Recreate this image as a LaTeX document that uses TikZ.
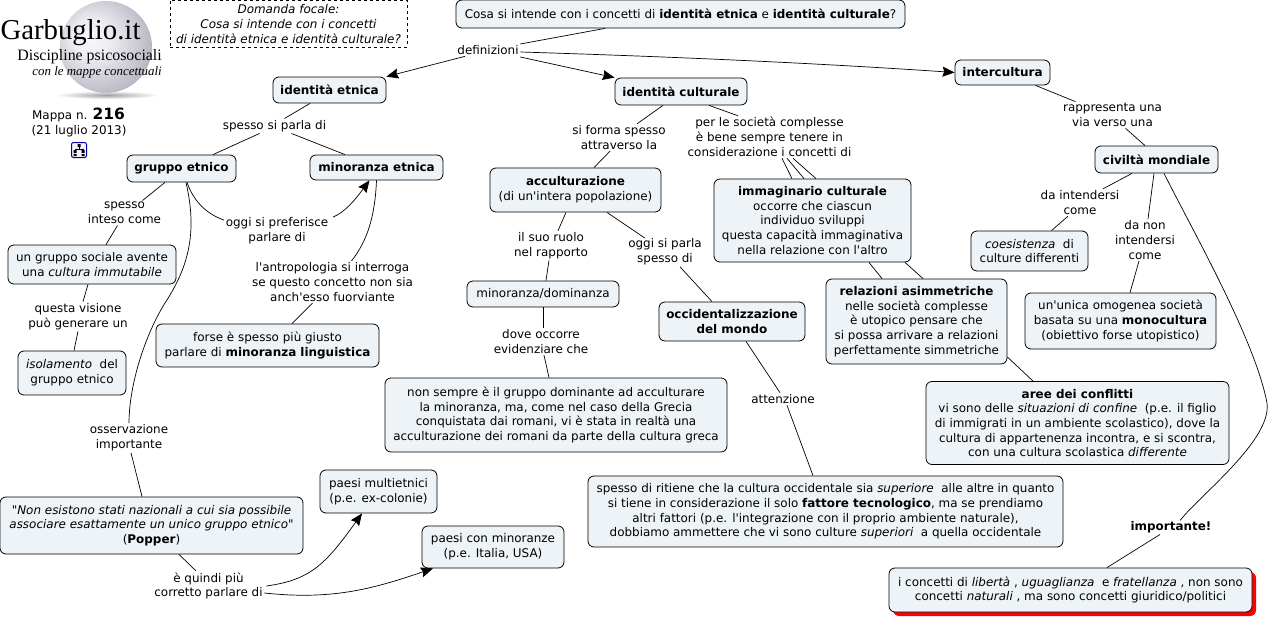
\documentclass[tikz,border=0pt]{standalone}
\usepackage{fontspec}
\setmainfont{DejaVu Sans}[Ligatures=TeXOff]
\newfontfamily\logofont{Liberation Serif}
\usetikzlibrary{arrows.meta,shadows}
\definecolor{boxfill}{HTML}{EDF3F6}
\pgfdeclareradialshading{pearl}{\pgfpoint{-10bp}{6bp}}{rgb(0bp)=(.98,.98,.99);rgb(10bp)=(.93,.93,.95);rgb(24bp)=(.78,.78,.82);rgb(38bp)=(.62,.62,.68);rgb(46bp)=(.52,.52,.58);rgb(50bp)=(.60,.60,.66)}
\tikzset{
  every node/.style={font=\fontsize{11.95}{14.7}\selectfont,align=center,inner sep=1.5pt},
  conbox/.style={draw=black,fill=boxfill,rounded corners=6pt,line width=.8pt,inner sep=0pt},
  linkto/.style={line width=.7pt},
  arrowto/.style={line width=.7pt,-{Stealth[length=12pt,width=10pt,inset=1.5pt]}}
}
\begin{document}
\begin{tikzpicture}[x=1pt,y=-1pt]
\useasboundingbox (0,0) rectangle (1270,618);
% logo
\shade[inner color=gray!75,outer color=white] (107,95) ellipse (52 and 4);
\shade[shading=pearl] (106,47) circle (46);
\node[font=\logofont\fontsize{28.8}{30}\selectfont,inner sep=0pt] (logo) at (70.5,33) {Garbuglio.it};
\node[font=\logofont\fontsize{15.9}{17}\selectfont,inner sep=0pt,anchor=east] (logosub) at (162,57) {Discipline psicosociali};
\node[font=\logofont\itshape\fontsize{12.9}{14}\selectfont,inner sep=0pt,anchor=east] (logomap) at (162,72) {con le mappe concettuali};
\node (mapnum) at (78.5,115) {Mappa n. {\fontsize{15.5}{15}\selectfont\bfseries 216}};
\node (mapdate) at (79,131) {(21 luglio 2013)};
\node[draw=blue!70!black,fill=blue!5,rounded corners=2pt,line width=1pt,minimum size=15pt,inner sep=0pt] (icon) at (79,150) {};
\fill (77.5,144) rectangle (80.5,147) (73.5,150) rectangle (76.5,153) (81.5,150) rectangle (84.5,153) (73.5,154) rectangle (76.5,156) (81.5,154) rectangle (84.5,156);
\draw[line width=.4pt] (79,147) -- (79,149) (75,149) -- (83,149) (75,149) -- (75,150) (83,149) -- (83,150);
% top
\node[draw=black,dashed,line width=.7pt,minimum width=237pt,minimum height=47pt,inner sep=0pt] (focal) at (288.5,24) {\itshape Domanda focale:\\\itshape Cosa si intende con i concetti\\\itshape di identità etnica e identità culturale?};
\node[conbox,minimum width=449pt,minimum height=28pt] (title) at (680.5,14) {Cosa si intende con i concetti di \textbf{identità etnica} e \textbf{identità culturale}?};
\node (defs) at (488,50) {definizioni};
\node[conbox,minimum width=113pt,minimum height=26pt] (etnica) at (329.5,90) {\textbf{identità etnica}};
\node[conbox,minimum width=132pt,minimum height=27pt] (culturale) at (681,91.5) {\textbf{identità culturale}};
\node[conbox,minimum width=95pt,minimum height=25pt] (inter) at (1002.5,72.5) {\textbf{intercultura}};
% left side
\node (parla) at (274.5,126) {spesso si parla di};
\node[conbox,minimum width=109pt,minimum height=27pt] (gruppo) at (181.5,168.5) {\textbf{gruppo etnico}};
\node[conbox,minimum width=133pt,minimum height=25pt] (minoranza) at (376.5,167.5) {\textbf{minoranza etnica}};
\node (inteso) at (124.5,213) {spesso\\inteso come};
\node[conbox,minimum width=168pt,minimum height=39pt] (sociale) at (92,264.5) {un gruppo sociale avente\\una \textit{cultura immutabile}};
\node (visione) at (78,316.5) {questa visione\\può generare un};
\node[conbox,minimum width=108pt,minimum height=44pt] (isola) at (72,373) {\textit{isolamento} ~del\\gruppo etnico};
\node (prefer) at (277,231) {oggi si preferisce\\parlare di};
\node (antro) at (332.5,282) {l'antropologia si interroga\\se questo concetto non sia\\anch'esso fuorviante};
\node[conbox,minimum width=223pt,minimum height=43pt] (forse) at (267.5,345.5) {forse è spesso più giusto\\parlare di \textbf{minoranza linguistica}};
\node (osserv) at (129,438) {osservazione\\importante};
\node[conbox,minimum width=303pt,minimum height=57pt] (popper) at (151.5,525.5) {\textit{"Non esistono stati nazionali a cui sia possibile}\\\textit{associare esattamente un unico gruppo etnico"}\\(\textbf{Popper})};
\node (quindi) at (208.5,586) {è quindi più\\corretto parlare di};
\node[conbox,minimum width=117pt,minimum height=43pt] (multi) at (378.5,491.5) {paesi multietnici\\(p.e. ex-colonie)};
\node[conbox,minimum width=142pt,minimum height=42pt] (paesi) at (493,547) {paesi con minoranze\\(p.e. Italia, USA)};
% middle
\node (forma) at (619,137.5) {si forma spesso\\attraverso la};
\node (per) at (769.5,137) {per le società complesse\\è bene sempre tenere in\\considerazione i concetti di};
\node[conbox,minimum width=171pt,minimum height=44pt] (accult) at (575.5,190) {\textbf{acculturazione}\\(di un'intera popolazione)};
\node[conbox,minimum width=197pt,minimum height=83pt] (immag) at (812.5,220.5) {\textbf{immaginario culturale}\\occorre che ciascun\\individuo sviluppi\\questa capacità immaginativa\\nella relazione con l'altro};
\node (ruolo) at (551,245.5) {il suo ruolo\\nel rapporto};
\node (oggi) at (665,252) {oggi si parla\\spesso di};
\node[conbox,minimum width=152pt,minimum height=26pt] (domina) at (543,294) {minoranza/dominanza};
\node (dove) at (541,341.5) {dove occorre\\evidenziare che};
\node[conbox,minimum width=146pt,minimum height=39pt] (occid) at (732,321.5) {\textbf{occidentalizzazione}\\\textbf{del mondo}};
\node[conbox,minimum width=342pt,minimum height=74pt] (grecia) at (556,415) {non sempre è il gruppo dominante ad acculturare\\la minoranza, ma, come nel caso della Grecia\\conquistata dai romani, vi è stata in realtà una\\acculturazione dei romani da parte della cultura greca};
\node (attenz) at (783,399) {attenzione};
\node[conbox,minimum width=475pt,minimum height=71pt] (tecno) at (825.5,511.5) {spesso di ritiene che la cultura occidentale sia \textit{superiore} ~alle altre in quanto\\si tiene in considerazione il solo \textbf{fattore tecnologico}, ma se prendiamo\\altri fattori (p.e. l'integrazione con il proprio ambiente naturale),\\dobbiamo ammettere che vi sono culture \textit{superiori} ~a quella occidentale};
\node[conbox,minimum width=181pt,minimum height=85pt] (asimm) at (916.5,321.5) {\textbf{relazioni asimmetriche}\\nelle società complesse\\è utopico pensare che\\si possa arrivare a relazioni\\perfettamente simmetriche};
\node[conbox,minimum width=303pt,minimum height=83pt] (aree) at (1077.5,423) {\textbf{aree dei conflitti}\\vi sono delle \textit{situazioni di confine} ~(p.e. il figlio\\di immigrati in un ambiente scolastico), dove la\\cultura di appartenenza incontra, e si scontra,\\con una cultura scolastica \textit{differente}};
% right side
\node (rappr) at (1112.5,115) {rappresenta una\\via verso una};
\node[conbox,minimum width=123pt,minimum height=27pt] (civil) at (1156.5,159.5) {\textbf{civiltà mondiale}};
\node (intend) at (1080,202.5) {da intendersi\\come};
\node (danon) at (1145,240) {da non\\intendersi\\come};
\node[conbox,minimum width=117pt,minimum height=40pt] (coes) at (1029.5,251) {\textit{coesistenza} ~di\\culture differenti};
\node[conbox,minimum width=191pt,minimum height=56pt] (omog) at (1120.5,321) {un'unica omogenea società\\basata su una \textbf{monocultura}\\(obiettivo forse utopistico)};
\node (import) at (1171,527) {\textbf{importante!}};
\node[conbox,minimum width=363pt,minimum height=44pt,general shadow={fill=red,shadow xshift=4pt,shadow yshift=-4pt,rounded corners=6pt}] (liberta) at (1070.5,590) {i concetti di \textit{libertà} , \textit{uguaglianza} ~e \textit{fratellanza} , non sono\\concetti \textit{naturali} , ma sono concetti giuridico/politici};
% connectors
\draw[linkto] ([xshift=-75.5pt]title.south) -- ([yshift=6pt]defs.east);
\draw[arrowto] ([xshift=-23pt]defs.south) -- (etnica.north east);
\draw[arrowto] ([yshift=-7pt]defs.east) -- (culturale.north west);
\draw[arrowto] ([yshift=-2pt]defs.east) .. controls (650,56) and (800,62) .. (inter.west);
\draw[linkto] ([xshift=-19.5pt]etnica.south) -- ([xshift=10pt]parla.north);
\draw[linkto] ([xshift=-15pt]parla.south) -- ([xshift=31.5pt]gruppo.north);
\draw[linkto] ([xshift=17pt]parla.south) -- ([xshift=-31.5pt]minoranza.north);
\draw[linkto] ([xshift=-16.5pt]gruppo.south) -- ([xshift=18pt]inteso.north);
\draw[linkto] ([xshift=-7pt]inteso.south) -- ([xshift=14pt]sociale.north);
\draw[linkto] ([xshift=-4pt]sociale.south) -- ([xshift=5pt]visione.north);
\draw[linkto] (visione.south) -- ([xshift=2pt]isola.north);
\draw[linkto] ([xshift=5.5pt]gruppo.south) .. controls (195,205) and (210,215) .. ([yshift=-4pt]prefer.north west);
\draw[arrowto] ([xshift=3pt,yshift=-1pt]prefer.north east) .. controls (345,212) and (355,200) .. ([xshift=-7pt]minoranza.south);
\draw[linkto] (minoranza.south) .. controls (375,215) and (368,240) .. ([xshift=19pt]antro.north);
\draw[linkto] ([xshift=-20pt]antro.south) -- ([xshift=24.5pt]forse.north);
\draw[linkto] ([xshift=4.5pt]gruppo.south) .. controls (197,230) and (190,265) .. (165,303) .. controls (145,335) and (129,385) .. (osserv.north);
\draw[linkto] ([xshift=2pt]osserv.south) -- ([xshift=-9.5pt]popper.north);
\draw[linkto] ([xshift=27.5pt]popper.south) -- ([xshift=-12.5pt]quindi.north);
\draw[arrowto] ([xshift=2pt]quindi.east) .. controls (310,580) and (325,565) .. ([xshift=-16.5pt]multi.south);
\draw[arrowto] ([yshift=-7pt]quindi.east) .. controls (330,600) and (370,590) .. ([xshift=-60pt]paesi.south);
\draw[linkto] ([xshift=-18pt]culturale.south) -- ([xshift=18pt]forma.north);
\draw[linkto] ([xshift=-9pt]forma.south) -- ([xshift=18.5pt]accult.north);
\draw[linkto] ([xshift=28pt]culturale.south) -- ([xshift=-31.5pt]per.north);
\draw[linkto] ([xshift=12.5pt]per.south) -- ([xshift=-20.5pt]immag.north);
\draw[linkto] ([xshift=17.5pt]per.south) -- ([xshift=-8.5pt]immag.north);
\draw[linkto] ([xshift=23.5pt]per.south) -- ([xshift=3.5pt]immag.north);
\draw[linkto] ([xshift=-9.5pt]accult.south) -- ([xshift=7pt]ruolo.north);
\draw[linkto] ([xshift=-2pt]ruolo.south) -- ([xshift=3pt]domina.north);
\draw[linkto] ([xshift=31.5pt]accult.south) -- ([xshift=-20pt,yshift=-1pt]oggi.north);
\draw[linkto] ([xshift=15pt]oggi.south) -- ([xshift=-20pt]occid.north);
\draw[linkto] (domina.south) -- ([xshift=2pt]dove.north);
\draw[linkto] ([xshift=3pt]dove.south) -- ([xshift=-7pt]grecia.north);
\draw[linkto] ([xshift=14pt]occid.south) -- ([xshift=-3pt]attenz.north);
\draw[linkto] ([xshift=4pt]attenz.south) -- ([xshift=-12.5pt]tecno.north);
\draw[linkto] ([xshift=56.5pt]immag.south) -- ([xshift=-34.5pt]asimm.north);
\draw[linkto] ([xshift=92.5pt]immag.south) -- ([xshift=6.5pt]asimm.north);
\draw[linkto] ([yshift=-35.5pt]asimm.east) -- ([xshift=-44.5pt]aree.north);
\draw[linkto] ([xshift=33pt]inter.south) -- ([xshift=-37pt]rappr.north);
\draw[linkto] ([xshift=13pt]rappr.south) -- ([xshift=-11.5pt]civil.north);
\draw[linkto] ([xshift=-24.5pt]civil.south) -- ([xshift=23pt]intend.north);
\draw[linkto] ([xshift=-12pt]intend.south) -- ([xshift=22pt]coes.north);
\draw[linkto] ([xshift=-2.5pt]civil.south) -- ([xshift=3pt]danon.north);
\draw[linkto] ([xshift=-6pt]danon.south) -- ([xshift=9.5pt]omog.north);
\draw[linkto] ([xshift=7.5pt]civil.south) .. controls (1195,235) and (1255,340) .. (1267,403) .. controls (1272,440) and (1200,495) .. ([xshift=9pt,yshift=-1pt]import.north);
\draw[linkto] ([xshift=-11pt]import.south) -- ([xshift=36.5pt]liberta.north);
\end{tikzpicture}
\end{document}
